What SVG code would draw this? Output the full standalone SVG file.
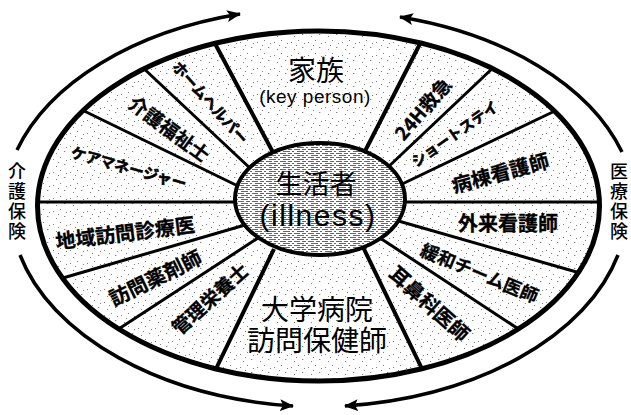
<svg xmlns="http://www.w3.org/2000/svg" width="631" height="415" viewBox="0 0 631 415">
<style>
.jp{font-family:"Noto Sans CJK JP","Noto Sans",sans-serif;fill:#000}
.seg{font-weight:700;text-anchor:middle;dominant-baseline:central;stroke:#000;stroke-width:0.3}
.kana{stroke-width:0.6}
.big{font-size:28px;text-anchor:middle}
.div{stroke:#000;stroke-width:3;fill:none;stroke-linecap:butt}
.thk{stroke-width:4}
.arr{fill:none;stroke:#000;stroke-width:3.5;marker-end:url(#ah)}
.side{font-size:18px;text-anchor:middle;font-weight:500;writing-mode:vertical-rl;letter-spacing:2px}
</style>
<defs>
<marker id="ah" markerUnits="userSpaceOnUse" markerWidth="14" markerHeight="12" refX="13" refY="6" orient="auto">
<path d="M0,0 L14,6 L0,12 L3,6 z" fill="#000"/>
</marker>
<pattern id="spk" width="17" height="13" patternUnits="userSpaceOnUse">
<rect width="17" height="13" fill="#fff"/>
<g fill="#000" opacity="0.5">
<rect x="2" y="3" width="1" height="1"/><rect x="9" y="1" width="1" height="1"/><rect x="13" y="8" width="1.3" height="1"/><rect x="5" y="10" width="1" height="1"/><rect x="15" y="4" width="1" height="1"/><rect x="7" y="6" width="1" height="1"/>
</g>
</pattern>
<pattern id="hat" width="14" height="4" patternUnits="userSpaceOnUse">
<rect width="14" height="4" fill="#fff"/>
<path d="M0 1.5h6M8 1.5h4M3 3.5h7M12 3.5h2" stroke="#000" stroke-width="1" opacity="0.6"/>
</pattern>
<clipPath id="oc"><ellipse cx="318.5" cy="206" rx="281" ry="175"/></clipPath>
</defs>

<g id="outer">
<ellipse cx="318.5" cy="206" rx="281" ry="175" fill="url(#spk)" stroke="none"/>
</g>

<g id="connectors" clip-path="url(#oc)">
<line class="div thk" x1="212" y1="38" x2="276" y2="158"/>
<line class="div" x1="140" y1="65" x2="252" y2="170"/>
<line class="div" x1="78" y1="108" x2="242" y2="188"/>
<line class="div" x1="30" y1="202" x2="245" y2="202"/>
<line class="div" x1="56" y1="280" x2="245" y2="225"/>
<line class="div" x1="114" y1="332" x2="258" y2="238"/>
<line class="div thk" x1="213" y1="375" x2="274" y2="249"/>
<line class="div thk" x1="423" y1="38" x2="362" y2="157"/>
<line class="div" x1="496" y1="65" x2="385" y2="170"/>
<line class="div" x1="559" y1="109" x2="398" y2="186"/>
<line class="div" x1="608" y1="202" x2="395" y2="202"/>
<line class="div" x1="587" y1="275" x2="395" y2="220"/>
<line class="div" x1="523" y1="332" x2="380" y2="238"/>
<line class="div thk" x1="425" y1="375" x2="363" y2="247"/>
</g>

<g id="outer-ring">
<ellipse cx="318.5" cy="206" rx="281" ry="175" fill="none" stroke="#000" stroke-width="5"/>
</g>

<g id="arrows">
<path class="arr" d="M17 150 A315 200 0 0 1 240 14"/>
<path class="arr" d="M622 152 A315 200 0 0 0 400 17"/>
<path class="arr" d="M20 255 A315 200 0 0 0 293 406"/>
<path class="arr" d="M618 255 A315 200 0 0 1 345 406"/>
</g>

<g id="center">
<ellipse cx="320" cy="199" rx="85" ry="56" fill="url(#hat)" stroke="#000" stroke-width="4"/>
<text class="jp" x="316" y="194" font-size="27" text-anchor="middle">生活者</text>
<text x="318" y="226" font-family="Liberation Sans,Arial,sans-serif" font-size="30" letter-spacing="1.5" text-anchor="middle">(illness)</text>
</g>

<g id="family">
<text class="jp big" x="316" y="81">家族</text>
<text x="315" y="103" font-family="Liberation Sans,Arial,sans-serif" font-size="19" letter-spacing="0.5" text-anchor="middle">(key person)</text>
</g>

<g id="university">
<text class="jp big"><tspan x="317" y="320">大学病院</tspan><tspan x="317" y="351">訪問保健師</tspan></text>
</g>

<g id="n-homehelper"><text class="jp seg kana" font-size="15" transform="translate(211,102) rotate(48)">ホームヘルパー</text></g>
<g id="n-kaigo"><text class="jp seg" font-size="19" transform="translate(170,128) rotate(36.5)">介護福祉士</text></g>
<g id="n-care"><text class="jp seg kana" font-size="15" transform="translate(129,167) rotate(15.5)">ケアマネージャー</text></g>
<g id="n-chiiki"><text class="jp seg" font-size="20" transform="translate(125,232) rotate(-7)">地域訪問診療医</text></g>
<g id="n-yakuzai"><text class="jp seg" font-size="20" transform="translate(155,277) rotate(-26)">訪問薬剤師</text></g>
<g id="n-eiyou"><text class="jp seg" font-size="19" transform="translate(209,298) rotate(-42)">管理栄養士</text></g>
<g id="n-24h"><text class="jp seg" font-size="19" transform="translate(422,108) rotate(-49)">24H救急</text></g>
<g id="n-short"><text class="jp seg kana" font-size="14.5" transform="translate(454,133) rotate(-35)">ショートステイ</text></g>
<g id="n-byoutou"><text class="jp seg" font-size="20" transform="translate(500,172) rotate(-15)">病棟看護師</text></g>
<g id="n-gairai"><text class="jp seg" font-size="20" transform="translate(508,222)">外来看護師</text></g>
<g id="n-kanwa"><text class="jp seg" font-size="18" transform="translate(480,272) rotate(22.6)">緩和チーム医師</text></g>
<g id="n-jibika"><text class="jp seg" font-size="20" transform="translate(430,303) rotate(42)">耳鼻科医師</text></g>

<g id="kaigo-hoken">
<text class="jp side" x="17" y="202">介護保険</text>
</g>
<g id="iryou-hoken">
<text class="jp side" x="619" y="202">医療保険</text>
</g>
</svg>
